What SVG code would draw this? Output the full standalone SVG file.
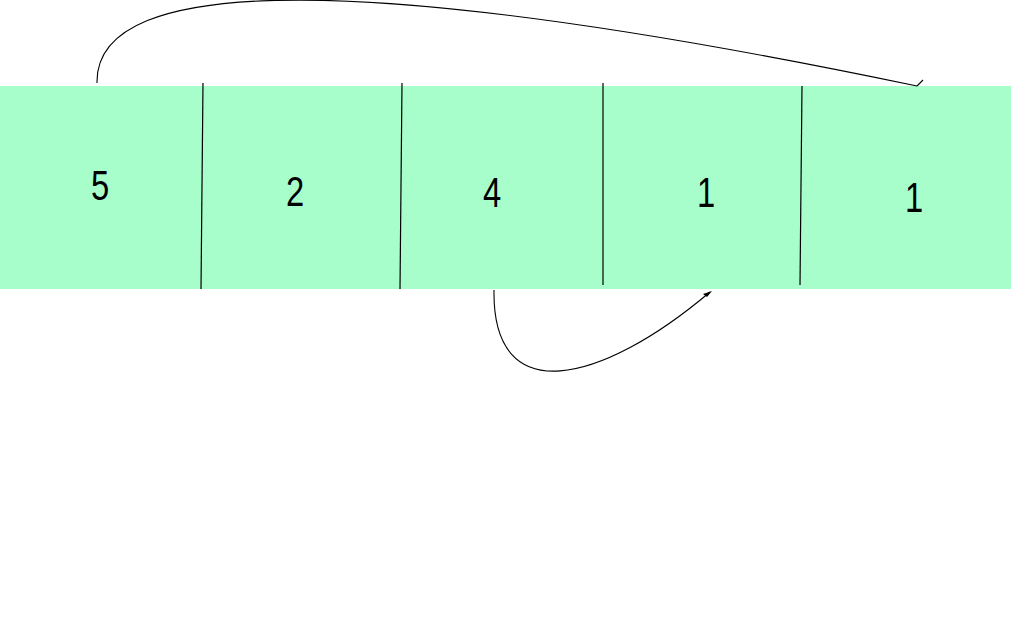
<svg xmlns="http://www.w3.org/2000/svg" width="1011" height="635" viewBox="0 0 1011 635">
<style>
.cell{fill:#a8fecb;}
.div{stroke:#000;stroke-width:1.2;fill:none;}
.lbl{font-family:"Liberation Sans",Arial,sans-serif;font-size:42px;fill:#000;text-anchor:middle;}
.edge{stroke:#000;stroke-width:1.1;fill:none;}
</style>
<rect x="0" y="0" width="1011" height="635" fill="#fff"/>
<g id="cells">
<g id="n1"><rect class="cell" x="0" y="86" width="202" height="203"/><text class="lbl" transform="translate(100,200) scale(0.78,1)">5</text></g>
<g id="n2"><rect class="cell" x="202" y="86" width="200" height="203"/><text class="lbl" transform="translate(295,206) scale(0.78,1)">2</text></g>
<g id="n3"><rect class="cell" x="402" y="86" width="201" height="203"/><text class="lbl" transform="translate(492,207) scale(0.78,1)">4</text></g>
<g id="n4"><rect class="cell" x="603" y="86" width="199" height="203"/><text class="lbl" transform="translate(706,207) scale(0.78,1)">1</text></g>
<g id="n5"><rect class="cell" x="802" y="86" width="209" height="203"/><text class="lbl" transform="translate(914,212) scale(0.78,1)">1</text></g>
</g>
<g id="dividers">
<path class="div" d="M203,83 L201,289"/>
<path class="div" d="M402,83 L400,289"/>
<path class="div" d="M603,83 L603,285"/>
<path class="div" d="M802,86 L800,285"/>
</g>
<g id="connectors">
<path class="edge" d="M97,83 C95,-28 370,-28 917,86"/>
<path class="edge" d="M917,86 L923,80"/>
<path class="edge" d="M494,290 C492,410 600,385 710,292"/>
<path d="M712,291 L703,294 L707,297 Z" fill="#000"/>
</g>
</svg>
